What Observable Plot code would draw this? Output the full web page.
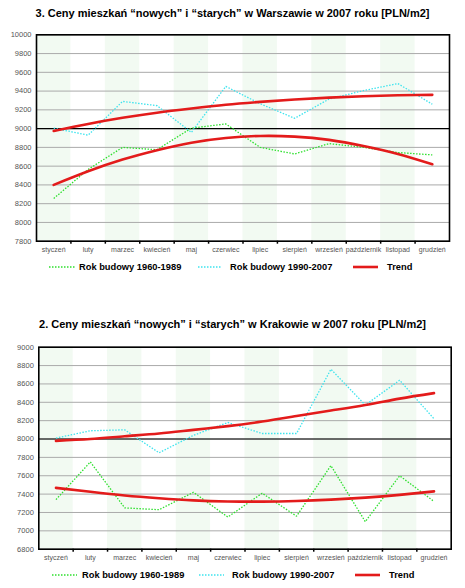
<!DOCTYPE html>
<html>
<head>
<meta charset="utf-8">
<script src="https://cdn.jsdelivr.net/npm/d3@7"></script>
<script src="https://cdn.jsdelivr.net/npm/@observablehq/plot@0.6"></script>
<style>
  body { margin: 0; background: #fff; font-family: "Liberation Sans", Arial, sans-serif; }
  #page { position: relative; width: 465px; height: 588px; overflow: hidden; }
  .title { position: absolute; left: 0; width: 465px; text-align: center; font-weight: bold; font-size: 11px; line-height: 14px; color: #000; white-space: nowrap; }
  .chart { position: absolute; left: 0; }
  .legend { position: absolute; left: 0; width: 465px; height: 14px; }
  .legend .item { position: absolute; top: 0; height: 14px; line-height: 14px; font-weight: bold; font-size: 9.3px; white-space: nowrap; }
  .legend svg { position: absolute; top: 0; }
</style>
</head>
<body>
<div id="page"></div>
<script>
const months = ["styczeń","luty","marzec","kwiecień","maj","czerwiec","lipiec","sierpień","wrzesień","październik","listopad","grudzień"];

const seriesNames = ["Rok budowy 1960-1989", "Rok budowy 1990-2007", "Trend"];

// Warszawa
const warsawTitle = "3. Ceny mieszkań “nowych” i “starych” w Warszawie w 2007 roku [PLN/m2]";
const warsawYTicks = [7800, 8000, 8200, 8400, 8600, 8800, 9000, 9200, 9400, 9600, 9800, 10000];
const warsawOld = [8255, 8565, 8800, 8775, 9005, 9050, 8800, 8730, 8840, 8800, 8745, 8720];
const warsawNew = [9005, 8930, 9290, 9245, 8960, 9450, 9265, 9110, 9315, 9405, 9480, 9260];
const warsawTrendNew = [8975, 9050, 9115, 9170, 9215, 9255, 9285, 9310, 9330, 9345, 9355, 9360];
const warsawTrendOld = [8400, 8545, 8670, 8770, 8850, 8900, 8922, 8915, 8880, 8815, 8730, 8620];
const warsawBlackLine = [9000];

// Kraków
const krakowTitle = "2. Ceny mieszkań “nowych” i “starych” w Krakowie w 2007 roku [PLN/m2]";
const krakowYTicks = [6800, 7000, 7200, 7400, 7600, 7800, 8000, 8200, 8400, 8600, 8800, 9000];
const krakowOld = [7340, 7750, 7250, 7230, 7420, 7150, 7410, 7160, 7710, 7100, 7600, 7320];
const krakowNew = [8010, 8090, 8100, 7850, 8040, 8180, 8060, 8060, 8760, 8370, 8640, 8220];
const krakowTrendNew = [7980, 8000, 8030, 8060, 8100, 8140, 8190, 8250, 8310, 8370, 8440, 8500];
const krakowTrendOld = [7468, 7425, 7385, 7355, 7332, 7320, 7318, 7325, 7340, 7362, 7392, 7430];
const krakowBlackLine = [8000];

const colors = { old: "#2ee02e", neu: "#3ee4ee", trend: "#e31b1b", band: "#f2faf2", grid: "#aaaaaa", label: "#555" };
const dotted = "1.5,1.5";

const page = document.getElementById("page");

function makeChart({yTicks, old, neu, trendOld, trendNew, blackLine, top, height, mt, mb, ml, mr}) {
  const idx = months.map((m, i) => i + 1);
  const bands = idx.filter(i => i % 2 === 1);
  const bounds = idx.slice(0, -1).map(i => i + 0.5);
  const y0 = yTicks[0], y1 = yTicks[yTicks.length - 1];
  const svg = Plot.plot({
    width: 465, height,
    marginTop: mt, marginBottom: mb, marginLeft: ml, marginRight: mr,
    style: { fontFamily: '"Liberation Sans", Arial, sans-serif', background: "transparent" },
    x: { domain: [0.5, 12.5] },
    y: { domain: [y0, y1] },
    marks: [
      Plot.rect(bands, { x1: d => d - 0.5, x2: d => d + 0.5, y1: () => y0, y2: () => y1, fill: colors.band }),
      Plot.ruleY(yTicks, { stroke: colors.grid, strokeWidth: 1 }),
      Plot.ruleY(blackLine, { stroke: "#000", strokeWidth: 1.2 }),
      Plot.lineY(old, { x: (d, i) => i + 1, y: d => d, stroke: colors.old, strokeWidth: 1.3, strokeDasharray: dotted, strokeLinecap: "butt", strokeLinejoin: "miter" }),
      Plot.lineY(neu, { x: (d, i) => i + 1, y: d => d, stroke: colors.neu, strokeWidth: 1.3, strokeDasharray: dotted, strokeLinecap: "butt", strokeLinejoin: "miter" }),
      Plot.lineY(trendOld, { x: (d, i) => i + 1, y: d => d, stroke: colors.trend, strokeWidth: 2.6, curve: "natural" }),
      Plot.lineY(trendNew, { x: (d, i) => i + 1, y: d => d, stroke: colors.trend, strokeWidth: 2.6, curve: "natural" }),
      Plot.frame({ stroke: "#000", strokeWidth: 1.6 }),
      Plot.axisY(yTicks, { anchor: "left", tickSize: 0, tickPadding: 5, fontSize: 7.5, color: colors.label, tickFormat: d => String(d) }),
      Plot.axisX(idx, { anchor: "bottom", tickSize: 0, tickPadding: 6, fontSize: 7, color: colors.label, tickFormat: i => months[i - 1] }),
      Plot.axisX(bounds, { anchor: "bottom", tickSize: 3, tickFormat: () => "", color: "#000", strokeWidth: 1.5 })
    ]
  });
  svg.classList.add("chart");
  svg.style.top = top + "px";
  page.appendChild(svg);
}

function makeTitle(text, top) {
  const d = document.createElement("div");
  d.className = "title";
  d.style.top = top + "px";
  d.textContent = text;
  page.appendChild(d);
}

function makeLegend(top, xs) {
  const lg = document.createElement("div");
  lg.className = "legend";
  lg.style.top = top + "px";
  const styles = [
    { stroke: colors.old, w: 1.3, dash: dotted },
    { stroke: colors.neu, w: 1.3, dash: dotted },
    { stroke: colors.trend, w: 2.6, dash: null }
  ];
  seriesNames.forEach((name, k) => {
    const [sx, sw, tx] = xs[k];
    const ns = "http://www.w3.org/2000/svg";
    const s = document.createElementNS(ns, "svg");
    s.setAttribute("width", sw); s.setAttribute("height", 14);
    s.style.left = sx + "px";
    const l = document.createElementNS(ns, "line");
    l.setAttribute("x1", 0); l.setAttribute("x2", sw);
    l.setAttribute("y1", 7); l.setAttribute("y2", 7);
    l.setAttribute("stroke", styles[k].stroke);
    l.setAttribute("stroke-width", styles[k].w);
    if (styles[k].dash) l.setAttribute("stroke-dasharray", styles[k].dash);
    s.appendChild(l);
    lg.appendChild(s);
    const t = document.createElement("span");
    t.className = "item";
    t.style.left = tx + "px";
    t.textContent = name;
    lg.appendChild(t);
  });
  page.appendChild(lg);
}

makeTitle(warsawTitle, 6);
makeChart({ yTicks: warsawYTicks, old: warsawOld, neu: warsawNew, trendOld: warsawTrendOld, trendNew: warsawTrendNew,
  blackLine: warsawBlackLine, top: 24, height: 236, mt: 10.3, mb: 19.3, ml: 36, mr: 16 });
makeLegend(260, [[49, 26, 79], [198, 24, 230], [353, 25, 387]]);

makeTitle(krakowTitle, 317);
makeChart({ yTicks: krakowYTicks, old: krakowOld, neu: krakowNew, trendOld: krakowTrendOld, trendNew: krakowTrendNew,
  blackLine: krakowBlackLine, top: 336, height: 232, mt: 10.7, mb: 19.3, ml: 38.3, mr: 14.3 });
makeLegend(568, [[52, 25, 82], [199, 25, 232], [355, 25, 389]]);
</script>
</body>
</html>
